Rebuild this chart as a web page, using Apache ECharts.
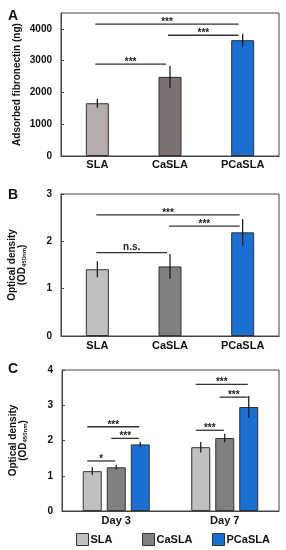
<!DOCTYPE html>
<html><head><meta charset="utf-8">
<script src="https://cdn.jsdelivr.net/npm/echarts@6/dist/echarts.min.js"></script>
<style>html,body{margin:0;padding:0;background:#fff}#c{width:286px;height:550px}</style>
</head><body><div id="c"></div>
<script>
// ---------- data ----------
var catsA = ['SLA', 'CaSLA', 'PCaSLA'];
var valsA = [1660, 2490, 3645];
var errsA = [140, 340, 200];
// significance: [fromIdx, toIdx, yLevel]
var sigA = [[0, 2, 4150], [1, 2, 3800], [0, 1, 2890]];
var sigTextA = ['***', '***', '***'];

var catsB = ['SLA', 'CaSLA', 'PCaSLA'];
var valsB = [1.41, 1.47, 2.19];
var errsB = [0.17, 0.26, 0.28];
var sigB = [[0, 2, 2.56], [1, 2, 2.32], [0, 1, 1.76]];
var sigTextB = ['***', '***', 'n.s.'];

var catsC = ['Day 3', 'Day 7'];
var seriesC = ['SLA', 'CaSLA', 'PCaSLA'];
var valsC_SLA = [1.13, 1.81];
var valsC_CaSLA = [1.24, 2.07];
var valsC_PCaSLA = [1.89, 2.95];
var errsC_SLA = [0.11, 0.15];
var errsC_CaSLA = [0.065, 0.12];
var errsC_PCaSLA = [0.075, 0.31];
// [group, fromBar, toBar, yLevel]
var sigC = [[0, 0, 2, 2.39], [0, 1, 2, 2.06], [0, 0, 1, 1.42],
            [1, 0, 2, 3.59], [1, 1, 2, 3.23], [1, 0, 1, 2.29]];
var sigTextC = ['***', '***', '*', '***', '***', '***'];

// ---------- styles ----------
var FONT = 'Liberation Sans';
var colA = ['#b4adaa', '#7a7270', '#1b6fd0'];
var colBC = ['#c0c0c0', '#808080', '#1b6fd0'];
var axisCol = '#444';
var barWA = 23, barWC = 19, gapC = 5;

function yAxisCommon(gi, min, max, interval, name, nameGap) {
  return {
    type: 'value', gridIndex: gi, min: min, max: max, interval: interval,
    axisLine: {show: true, lineStyle: {color: axisCol, width: 1}},
    axisTick: {show: true, inside: true, length: 3, lineStyle: {color: axisCol}},
    splitLine: {show: false},
    axisLabel: {showMaxLabel: max % interval === 0, fontFamily: FONT, fontWeight: 'bold', fontSize: 10, color: '#111', margin: 9,
      formatter: function (v) { return String(v); }},
    name: name, nameLocation: 'middle', nameRotate: 90, nameGap: nameGap, nameMoveOverlap: false,
    nameTextStyle: {fontFamily: FONT, fontWeight: 'bold', fontSize: 10, color: '#111', lineHeight: 10,
      rich: {sub: {fontFamily: FONT, fontWeight: 'bold', fontSize: 6, color: '#111', padding: [5, 0, 0, 0]}}}
  };
}
function xAxisCommon(gi, cats, margin) {
  return {
    type: 'category', gridIndex: gi, data: cats,
    axisLine: {show: true, lineStyle: {color: axisCol, width: 1}},
    axisTick: {show: false},
    axisLabel: {fontFamily: FONT, fontWeight: 'bold', fontSize: 11, color: '#111', margin: margin}
  };
}

function errRender(offset) {
  return function (params, api) {
    var x = api.value(0), v = api.value(1), e = api.value(2);
    var p1 = api.coord([x, v + e]), p2 = api.coord([x, v - e]);
    return {type: 'line', shape: {x1: p1[0] + offset, y1: p1[1], x2: p2[0] + offset, y2: p2[1]},
      style: {stroke: '#111', lineWidth: 1.2}};
  };
}
function sigRender(sig, texts, off0, off1) {
  return function (params, api) {
    var s = sig[params.dataIndex];
    var a = api.coord([s[0], s[2]]), b = api.coord([s[1], s[2]]);
    var x1 = a[0] + off0, x2 = b[0] + off1;
    return {type: 'group', children: [
      {type: 'line', shape: {x1: x1, y1: a[1], x2: x2, y2: a[1]}, style: {stroke: '#333', lineWidth: 1.3}},
      {type: 'text', x: (x1 + x2) / 2, y: a[1] + (texts[params.dataIndex] === 'n.s.' ? 0 : 3),
        style: {text: texts[params.dataIndex], fontFamily: FONT, fontWeight: 'bold', fontSize: 10, fill: '#222',
          textAlign: 'center', textVerticalAlign: 'bottom'}}
    ]};
  };
}
var barOff = [-(barWC + gapC), 0, barWC + gapC];
function sigRenderC(params, api) {
  var s = sigC[params.dataIndex];
  var c = api.coord([s[0], s[3]]);
  var x1 = c[0] + barOff[s[1]] - 5, x2 = c[0] + barOff[s[2]] - 1;
  return {type: 'group', children: [
    {type: 'line', shape: {x1: x1, y1: c[1], x2: x2, y2: c[1]}, style: {stroke: '#333', lineWidth: 1.3}},
    {type: 'text', x: (x1 + x2) / 2, y: c[1] + 3,
      style: {text: sigTextC[params.dataIndex], fontFamily: FONT, fontWeight: 'bold', fontSize: 10, fill: '#222',
        textAlign: 'center', textVerticalAlign: 'bottom'}}
  ]};
}

var seriesList = [];
// Panel A
seriesList.push({type: 'bar', xAxisIndex: 0, yAxisIndex: 0, barWidth: barWA,
  data: valsA.map(function (v, i) { return {value: v, itemStyle: {color: colA[i]}}; }),
  itemStyle: {borderColor: '#333', borderWidth: 1}});
seriesList.push({type: 'custom', xAxisIndex: 0, yAxisIndex: 0, renderItem: errRender(0),
  data: valsA.map(function (v, i) { return [i, v, errsA[i]]; }), z: 5});
seriesList.push({type: 'custom', xAxisIndex: 0, yAxisIndex: 0, renderItem: sigRender(sigA, sigTextA, -2, -4),
  data: sigA.map(function (s) { return [s[0], s[2]]; }), z: 5});
// Panel B
seriesList.push({type: 'bar', xAxisIndex: 1, yAxisIndex: 1, barWidth: barWA,
  data: valsB.map(function (v, i) { return {value: v, itemStyle: {color: colBC[i]}}; }),
  itemStyle: {borderColor: '#333', borderWidth: 1}});
seriesList.push({type: 'custom', xAxisIndex: 1, yAxisIndex: 1, renderItem: errRender(0),
  data: valsB.map(function (v, i) { return [i, v, errsB[i]]; }), z: 5});
seriesList.push({type: 'custom', xAxisIndex: 1, yAxisIndex: 1, renderItem: sigRender(sigB, sigTextB, -1, -3),
  data: sigB.map(function (s) { return [s[0], s[2]]; }), z: 5});
// Panel C
var valsC = [valsC_SLA, valsC_CaSLA, valsC_PCaSLA];
var errsC = [errsC_SLA, errsC_CaSLA, errsC_PCaSLA];
for (var k = 0; k < 3; k++) {
  seriesList.push({type: 'bar', name: seriesC[k], xAxisIndex: 2, yAxisIndex: 2, barWidth: barWC, barGap: (gapC / barWC * 100) + '%',
    data: valsC[k], itemStyle: {color: colBC[k], borderColor: '#333', borderWidth: 1}});
}
for (var k2 = 0; k2 < 3; k2++) {
  (function (kk) {
    seriesList.push({type: 'custom', xAxisIndex: 2, yAxisIndex: 2, renderItem: errRender(barOff[kk]),
      data: valsC[kk].map(function (v, i) { return [i, v, errsC[kk][i]]; }), z: 5});
  })(k2);
}
seriesList.push({type: 'custom', xAxisIndex: 2, yAxisIndex: 2, renderItem: sigRenderC,
  data: sigC.map(function (s) { return [s[0], s[3]]; }), z: 5});

function legendItem(name, left) {
  return {data: [name], left: left, top: 533, padding: 0, itemWidth: 12, itemHeight: 12, icon: 'rect',
    itemStyle: {borderColor: '#333', borderWidth: 1},
    textStyle: {fontFamily: FONT, fontWeight: 'bold', fontSize: 11, color: '#111', padding: [0, 0, 0, -3]},
    selectedMode: false};
}

var option = {
  animation: false,
  backgroundColor: '#fff',
  title: [
    {text: 'A', left: 3, top: 4, textStyle: {fontFamily: FONT, fontWeight: 'bold', fontSize: 14, color: '#111'}},
    {text: 'B', left: 3, top: 183, textStyle: {fontFamily: FONT, fontWeight: 'bold', fontSize: 14, color: '#111'}},
    {text: 'C', left: 3, top: 357, textStyle: {fontFamily: FONT, fontWeight: 'bold', fontSize: 14, color: '#111'}}
  ],
  grid: [
    {left: 61, right: 7, top: 13, height: 143, show: true, borderColor: axisCol, borderWidth: 1, outerBoundsMode: 'none'},
    {left: 61, right: 7, top: 194, height: 142, show: true, borderColor: axisCol, borderWidth: 1, outerBoundsMode: 'none'},
    {left: 62, right: 7, top: 370, height: 141, show: true, borderColor: axisCol, borderWidth: 1, outerBoundsMode: 'none'}
  ],
  xAxis: [xAxisCommon(0, catsA, 3), xAxisCommon(1, catsB, 4), xAxisCommon(2, catsC, 4)],
  yAxis: [
    yAxisCommon(0, 0, 4500, 1000, 'Adsorbed fibronectin (ng)', 39),
    yAxisCommon(1, 0, 3, 1, 'Optical density\n(OD{sub|450nm})', 34),
    yAxisCommon(2, 0, 4, 1, 'Optical density\n(OD{sub|450nm})', 34)
  ],
  legend: [legendItem('SLA', 76), legendItem('CaSLA', 142), legendItem('PCaSLA', 212)],
  series: seriesList
};
var chart = echarts.init(document.getElementById('c'), null, {renderer: 'canvas'});
chart.setOption(option);
</script>
</body></html>
